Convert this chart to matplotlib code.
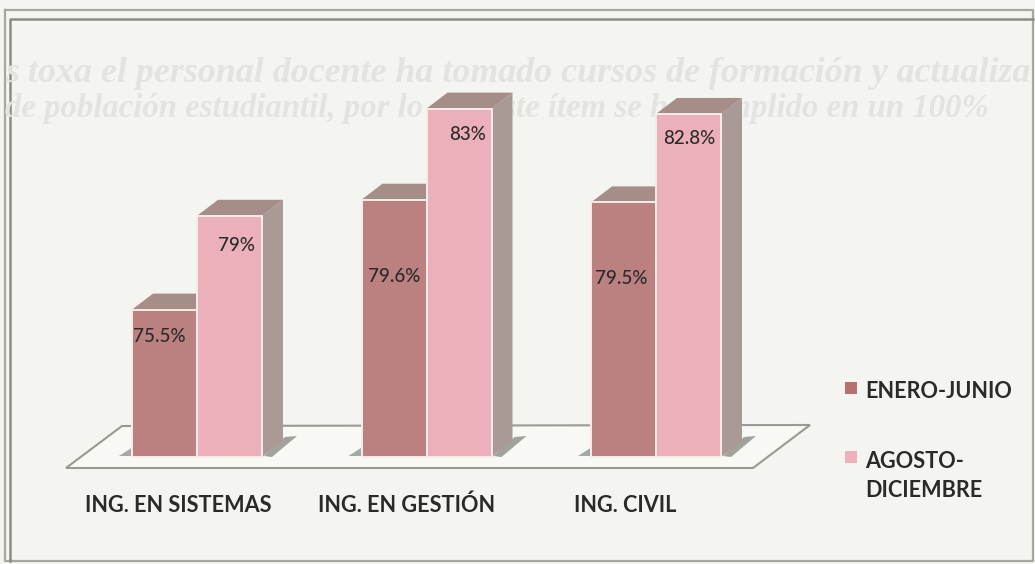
import numpy as np
import matplotlib
matplotlib.use('Agg')
import matplotlib.pyplot as plt
from matplotlib.patches import Polygon

plt.rcParams['font.family'] = ['Lato', 'DejaVu Sans']

categories = ['ING. EN SISTEMAS', 'ING. EN GESTIÓN', 'ING. CIVIL']
enero_junio = [75.5, 79.6, 79.5]
agosto_diciembre = [79, 83, 82.8]
labels_1 = ['75.5%', '79.6%', '79.5%']
labels_2 = ['79%', '83%', '82.8%']
series_names = ['ENERO-JUNIO', 'AGOSTO-\nDICIEMBRE']

W, H = 1035, 564
base_val = 70
px_per_val = 26.8
px_per_cat = 229.5
base_px = 457
first_px = 197      # centre of the first group
bar_w = 65 / px_per_cat
dx = 21 / px_per_cat
dy = 16 / px_per_val

dark = '#bb8080'
light = '#ebb0b9'
side = '#aa9a96'
top = '#a68d88'
paper = '#f4f4f1'
txt = '#2b2a2a'

fig = plt.figure(figsize=(W / 100, H / 100), dpi=100, facecolor=paper)

# background layer in picture pixels: frame, show-through text, floor, legend
bg = fig.add_axes([0, 0, 1, 1], zorder=1)
bg.set_xlim(0, W)
bg.set_ylim(H, 0)
bg.axis('off')

ghost = dict(family='Liberation Serif', style='italic', weight='bold',
             color='#e3e3df', va='center', clip_on=True)
bg.text(5, 73, 's toxa el personal docente ha tomado cursos de formación y actualiza', fontsize=25.8, **ghost)
bg.text(5, 109, 'de población estudiantil, por lo que este ítem se ha cumplido en un 100%', fontsize=23.6, **ghost)

bg.plot([5, 1033, 1033, 5, 5], [10, 10, 561, 561, 10], color='#a8a8a3', lw=1.6)
bg.plot([10, 10, 1033], [561, 19, 19], color='#8c8c87', lw=1.8)

bg.add_patch(Polygon([(66, 468), (122, 426), (810, 425), (753, 468)], closed=True,
                     fc='#f8f8f5', ec='#9a9a93', lw=1.5))

# shadows at the foot of the bars
for i in range(3):
    c = first_px + i * px_per_cat
    bg.add_patch(Polygon([(c - 64, 456), (c - 78, 456), (c - 64, 447)], closed=True, fc='#a3aaa6', ec='none'))
    bg.add_patch(Polygon([(c + 67, 456), (c + 88, 437), (c + 100, 436), (c + 75, 457)],
                         closed=True, fc='#a2a29c', ec='none'))

# bars on value / category scales
ax = fig.add_axes([0, 0, 1, 1], zorder=2)
ax.patch.set_alpha(0)
ax.set_xlim(-first_px / px_per_cat, (W - first_px) / px_per_cat)
ax.set_ylim(base_val - (H - base_px) / px_per_val, base_val + base_px / px_per_val)
ax.axis('off')


def bar3d(x, val, color):
    ax.add_patch(Polygon([(x + bar_w / 2, base_val), (x + bar_w / 2 + dx, base_val + dy),
                          (x + bar_w / 2 + dx, val + dy), (x + bar_w / 2, val)],
                         closed=True, fc=side, ec='none'))
    ax.add_patch(Polygon([(x - bar_w / 2, val), (x - bar_w / 2 + dx, val + dy),
                          (x + bar_w / 2 + dx, val + dy), (x + bar_w / 2, val)],
                         closed=True, fc=top, ec='none'))
    ax.bar(x, val - base_val, bottom=base_val, width=bar_w, color=color, ec='#f7ecea', lw=1.4)


xs = np.arange(len(categories))
for i in xs:
    bar3d(i - bar_w / 2, enero_junio[i], dark)
    bar3d(i + bar_w / 2, agosto_diciembre[i], light)

# value labels, offsets in pixels from the top centre of each bar
off_1 = [27, 77, 76]
off_2 = [30, 26, 25]
shift_1 = [-5, 0, -2]
shift_2 = [7, 9, 1]
for i in xs:
    ax.text(i - bar_w / 2 + shift_1[i] / px_per_cat, enero_junio[i] - off_1[i] / px_per_val, labels_1[i],
            ha='center', va='center', fontsize=13.5, weight='medium', color=txt)
    ax.text(i + bar_w / 2 + shift_2[i] / px_per_cat, agosto_diciembre[i] - off_2[i] / px_per_val, labels_2[i],
            ha='center', va='center', fontsize=13.5, weight='medium', color=txt)

# category names
cat_px = [178, 407, 625]
for name, p in zip(categories, cat_px):
    bg.text(p, 505, name, ha='center', va='center', fontsize=15.6, weight='bold', color=txt)

# legend
bg.add_patch(Polygon([(845, 382), (857, 382), (857, 394), (845, 394)], fc='#b5706f', ec='none'))
bg.add_patch(Polygon([(845, 451), (857, 451), (857, 463), (845, 463)], fc='#eeb0ba', ec='none'))
bg.text(865, 392, series_names[0], va='center', fontsize=15.6, weight='bold', color=txt)
bg.text(865, 476, series_names[1], va='center', fontsize=15.6, weight='bold', color=txt, linespacing=1.45)

fig.savefig('out.png', dpi=100, facecolor=paper)
